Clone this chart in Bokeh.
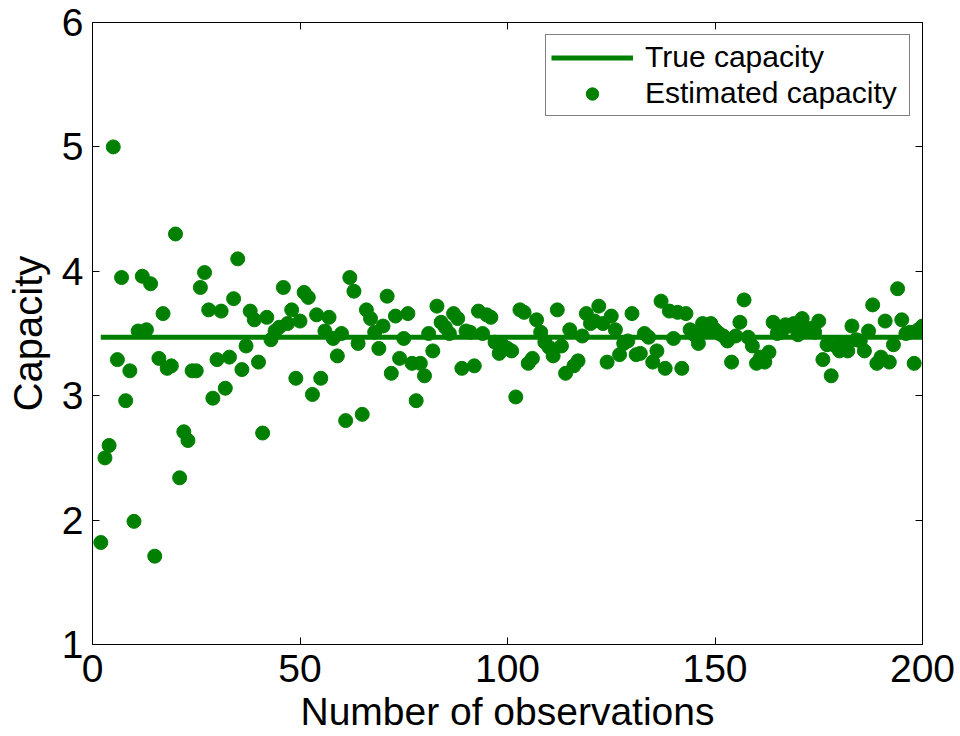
from bokeh.plotting import figure
from bokeh.models import (LinearAxis, Range1d, FixedTicker, Legend, LegendItem,
                          CustomJSTickFormatter)
from bokeh.embed import file_html
from bokeh.resources import INLINE

# ---- data ----
observations = list(range(2, 201))
estimated_capacity = [
    1.82, 2.50, 2.60, 5.00, 3.29, 3.95, 2.96, 3.20, 1.99, 3.52,   # 2-11
    3.96, 3.53, 3.90, 1.71, 3.30, 3.66, 3.22, 3.24, 4.30, 2.34,   # 12-21
    2.71, 2.64, 3.20, 3.20, 3.87, 3.99, 3.69, 2.98, 3.29, 3.68,   # 22-31
    3.06, 3.31, 3.78, 4.10, 3.21, 3.40, 3.68, 3.61, 3.27, 2.70,   # 32-41
    3.63, 3.45, 3.52, 3.55, 3.87, 3.58, 3.69, 3.14, 3.60, 3.83,   # 42-51
    3.79, 3.01, 3.65, 3.14, 3.52, 3.63, 3.46, 3.32, 3.50, 2.80,   # 52-61
    3.95, 3.84, 3.42, 2.85, 3.69, 3.62, 3.51, 3.38, 3.56, 3.80,   # 62-71
    3.18, 3.64, 3.30, 3.46, 3.66, 3.26, 2.96, 3.26, 3.16, 3.50,   # 72-81
    3.36, 3.72, 3.59, 3.55, 3.50, 3.66, 3.62, 3.22, 3.52, 3.51,   # 82-91
    3.24, 3.68, 3.50, 3.65, 3.63, 3.43, 3.34, 3.40, 3.38, 3.36,   # 92-101
    2.99, 3.69, 3.67, 3.26, 3.30, 3.61, 3.51, 3.43, 3.39, 3.32,   # 102-111
    3.69, 3.40, 3.18, 3.53, 3.24, 3.28, 3.48, 3.66, 3.58, 3.60,   # 112-121
    3.72, 3.58, 3.27, 3.64, 3.53, 3.33, 3.42, 3.44, 3.66, 3.33,   # 122-131
    3.34, 3.50, 3.47, 3.27, 3.36, 3.76, 3.22, 3.68, 3.46, 3.67,   # 132-141
    3.22, 3.66, 3.53, 3.49, 3.42, 3.58, 3.52, 3.58, 3.53, 3.50,   # 142-151
    3.48, 3.44, 3.27, 3.48, 3.59, 3.77, 3.47, 3.40, 3.26, 3.31,   # 152-161
    3.27, 3.35, 3.59, 3.50, 3.51, 3.57, 3.56, 3.58, 3.49, 3.62,   # 162-171
    3.54, 3.54, 3.51, 3.60, 3.29, 3.41, 3.16, 3.40, 3.36, 3.42,   # 172-181
    3.36, 3.56, 3.45, 3.44, 3.36, 3.52, 3.73, 3.26, 3.31, 3.60,   # 182-191
    3.27, 3.41, 3.86, 3.61, 3.50, 3.51, 3.26, 3.53, 3.56,         # 192-200
]
true_capacity = 3.47
true_line_x = [2, 200]
true_line_y = [true_capacity, true_capacity]

x_ticks = [0, 50, 100, 150, 200]
y_ticks = [1, 2, 3, 4, 5, 6]
x_label_text = "Number of observations"
y_label_text = "Capacity"

GREEN = "#008000"
FONT = "Liberation Sans"

p = figure(width=960, height=736, output_backend="svg", toolbar_location=None,
           x_range=Range1d(0, 200), y_range=Range1d(1, 6),
           x_axis_location=None, y_axis_location=None,
           min_border_left=92, min_border_right=38, min_border_top=22,
           min_border_bottom=92)
p.xgrid.visible = False
p.ygrid.visible = False
p.outline_line_color = "black"
p.background_fill_color = "white"
p.border_fill_color = "white"

blank = CustomJSTickFormatter(code="return ''")

def style_axis(ax, show_labels, standoff=10):
    ax.major_tick_in = 7
    ax.major_tick_out = 0
    ax.minor_tick_line_color = None
    ax.axis_line_color = "black"
    ax.major_tick_line_color = "black"
    ax.major_label_text_font = FONT
    ax.major_label_text_color = "black"
    ax.major_label_text_font_size = "39px"
    if show_labels:
        ax.major_label_standoff = standoff
    else:
        ax.formatter = blank
        ax.major_label_standoff = 0

def style_title(ax, text, size, standoff):
    ax.axis_label = text
    ax.axis_label_text_font = FONT
    ax.axis_label_text_font_size = size
    ax.axis_label_text_font_style = "normal"
    ax.axis_label_text_color = "black"
    ax.axis_label_standoff = standoff

xb = LinearAxis(ticker=FixedTicker(ticks=x_ticks))
style_axis(xb, True, 10)
style_title(xb, x_label_text, "39px", 5)
p.add_layout(xb, "below")
xt = LinearAxis(ticker=FixedTicker(ticks=x_ticks))
style_axis(xt, False)
p.add_layout(xt, "above")
yl = LinearAxis(ticker=FixedTicker(ticks=y_ticks))
style_axis(yl, True, 9)
style_title(yl, y_label_text, "40px", 9)
p.add_layout(yl, "left")
yr = LinearAxis(ticker=FixedTicker(ticks=y_ticks))
style_axis(yr, False)
p.add_layout(yr, "right")

r_line = p.line(true_line_x, true_line_y, line_color=GREEN, line_width=5)
r_pts = p.scatter(observations, estimated_capacity, size=14, marker="circle",
                  fill_color=GREEN, line_color=GREEN, line_width=1)

legend = Legend(items=[LegendItem(label="True capacity", renderers=[r_line]),
                       LegendItem(label="Estimated capacity", renderers=[r_pts])],
                location="top_right", margin=12, padding=5, spacing=2,
                glyph_width=82, glyph_height=31, label_height=31,
                label_width=259, label_standoff=12, label_text_font=FONT,
                label_text_font_size="30px", label_text_color="black",
                border_line_color="black", border_line_width=1,
                background_fill_color="white", background_fill_alpha=1.0)
p.add_layout(legend)

open("out.html", "w").write(file_html(p, INLINE))
